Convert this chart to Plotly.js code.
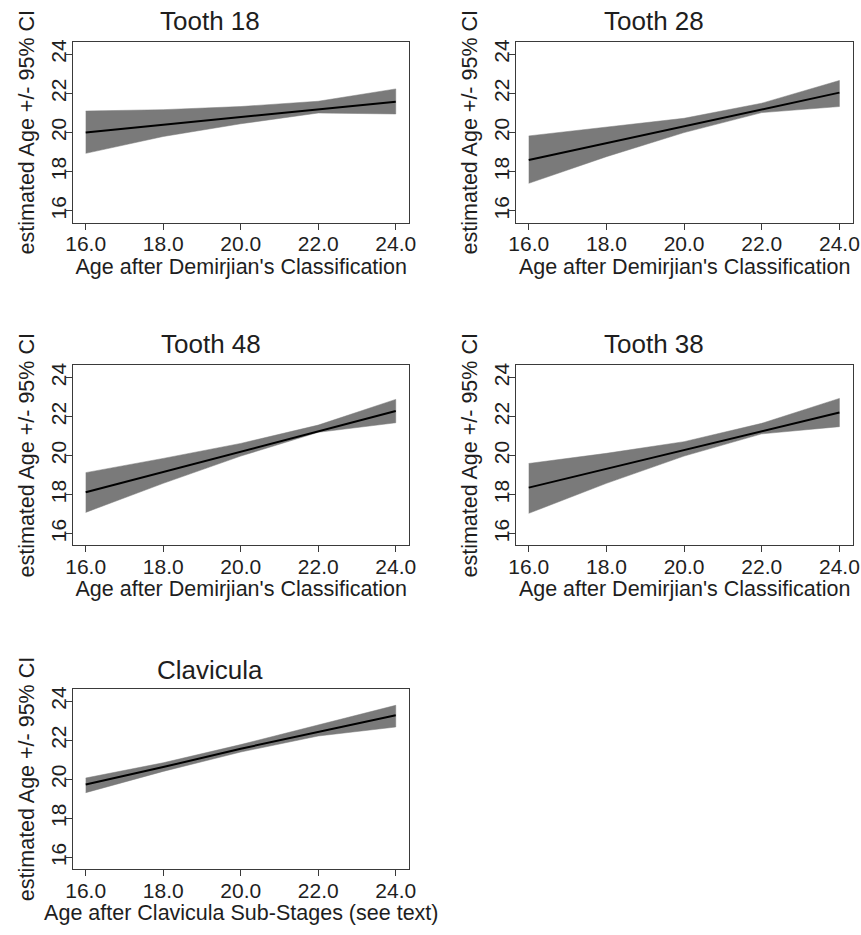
<!DOCTYPE html>
<html>
<head>
<meta charset="utf-8">
<script src="https://cdn.plot.ly/plotly-3.0.1.min.js"></script>
<style>html,body{margin:0;padding:0;background:#fff;}#chart{width:861px;height:935px;}</style>
</head>
<body>
<div id="chart"></div>
<script>
// ---- data ----
const panelTitles = ["Tooth 18", "Tooth 28", "Tooth 48", "Tooth 38", "Clavicula"];
const xTitles = ["Age after Demirjian's Classification", "Age after Demirjian's Classification",
                 "Age after Demirjian's Classification", "Age after Demirjian's Classification",
                 "Age after Clavicula Sub-Stages (see text)"];
const yTitle = "estimated Age +/- 95% CI";
const ageX = [16, 18, 20, 22, 24];

const tooth18Fit   = [20.00, 20.40, 20.80, 21.19, 21.58];
const tooth18Upper = [21.10, 21.17, 21.33, 21.60, 22.23];
const tooth18Lower = [18.94, 19.80, 20.45, 21.00, 20.95];

const tooth28Fit   = [18.60, 19.46, 20.33, 21.18, 22.04];
const tooth28Upper = [19.83, 20.27, 20.73, 21.50, 22.66];
const tooth28Lower = [17.41, 18.77, 20.00, 21.02, 21.33];

const tooth48Fit   = [18.12, 19.16, 20.22, 21.25, 22.29];
const tooth48Upper = [19.13, 19.86, 20.63, 21.57, 22.89];
const tooth48Lower = [17.09, 18.58, 19.98, 21.20, 21.69];

const tooth38Fit   = [18.36, 19.33, 20.29, 21.26, 22.22];
const tooth38Upper = [19.60, 20.12, 20.72, 21.66, 22.94];
const tooth38Lower = [17.04, 18.58, 19.98, 21.12, 21.49];

const clavFit   = [19.74, 20.63, 21.57, 22.43, 23.28];
const clavUpper = [20.07, 20.85, 21.78, 22.77, 23.79];
const clavLower = [19.32, 20.41, 21.40, 22.22, 22.68];

const fits   = [tooth18Fit, tooth28Fit, tooth48Fit, tooth38Fit, clavFit];
const uppers = [tooth18Upper, tooth28Upper, tooth48Upper, tooth38Upper, clavUpper];
const lowers = [tooth18Lower, tooth28Lower, tooth48Lower, tooth38Lower, clavLower];

const xTickVals = [16, 18, 20, 22, 24];
const xTickText = ["16.0", "18.0", "20.0", "22.0", "24.0"];
const yTickVals = [16, 18, 20, 22, 24];
const yTickText = ["16", "18", "20", "22", "24"];

// ---- layout geometry (pixels) ----
const W = 861, H = 935;
const boxes = [
  {l: 73.3, r: 409.3, t: 41.7, b: 222.7, tx: 210, ty: 21},
  {l: 516.3, r: 853.0, t: 41.7, b: 222.7, tx: 654, ty: 21},
  {l: 73.3, r: 409.3, t: 365.3, b: 545.3, tx: 211, ty: 344},
  {l: 516.3, r: 853.0, t: 365.3, b: 545.3, tx: 654, ty: 344},
  {l: 73.3, r: 409.3, t: 688.7, b: 869.3, tx: 210, ty: 670}
];

const FONT = "Liberation Sans, Arial, sans-serif";
const TXT = "#1e1e1e";
const traces = [];
const layout = {
  width: W, height: H,
  margin: {l: 0, r: 0, t: 0, b: 0},
  paper_bgcolor: "#ffffff", plot_bgcolor: "#ffffff",
  showlegend: false,
  font: {family: FONT, color: TXT, size: 21},
  annotations: []
};

for (let i = 0; i < 5; i++) {
  const n = i === 0 ? "" : String(i + 1);
  const xa = "x" + n, ya = "y" + n;
  const b = boxes[i];
  // CI band
  traces.push({
    type: "scatter", mode: "lines",
    x: ageX.concat(ageX.slice().reverse()),
    y: uppers[i].concat(lowers[i].slice().reverse()),
    fill: "toself", fillcolor: "rgb(122,122,122)",
    line: {width: 0.5, color: "rgb(122,122,122)"},
    xaxis: xa, yaxis: ya, hoverinfo: "skip"
  });
  // fitted line
  traces.push({
    type: "scatter", mode: "lines",
    x: ageX, y: fits[i],
    line: {width: 2, color: "#000000"},
    xaxis: xa, yaxis: ya
  });
  layout["xaxis" + n] = {
    domain: [b.l / W, b.r / W],
    anchor: ya,
    range: [15.68, 24.35],
    showgrid: false, zeroline: false,
    showline: true, mirror: true, linecolor: "#3a3a3a", linewidth: 1,
    ticks: "outside", ticklen: 6, tickwidth: 1, tickcolor: "#3a3a3a",
    ticklabelstandoff: -4,
    tickvals: xTickVals, ticktext: xTickText,
    tickfont: {family: FONT, size: 21, color: TXT},
    title: {text: xTitles[i], font: {family: FONT, size: 21.5, color: TXT}, standoff: 0}
  };
  layout["yaxis" + n] = {
    domain: [1 - b.b / H, 1 - b.t / H],
    anchor: xa,
    range: [15.4, 24.64],
    showgrid: false, zeroline: false,
    showline: true, mirror: true, linecolor: "#3a3a3a", linewidth: 1,
    ticks: "outside", ticklen: 6, tickwidth: 1, tickcolor: "#3a3a3a",
    ticklabelstandoff: -8,
    tickvals: yTickVals, ticktext: yTickText, tickangle: -90,
    tickfont: {family: FONT, size: 21, color: TXT},
    title: {text: yTitle, font: {family: FONT, size: 21.5, color: TXT}, standoff: 6}
  };
  layout.annotations.push({
    text: panelTitles[i], xref: "paper", yref: "paper",
    x: b.tx / W, y: 1 - b.ty / H, xanchor: "center", yanchor: "middle",
    showarrow: false, font: {family: FONT, size: 26, color: TXT}
  });
}

Plotly.newPlot("chart", traces, layout, {displayModeBar: false, staticPlot: true});
</script>
</body>
</html>
